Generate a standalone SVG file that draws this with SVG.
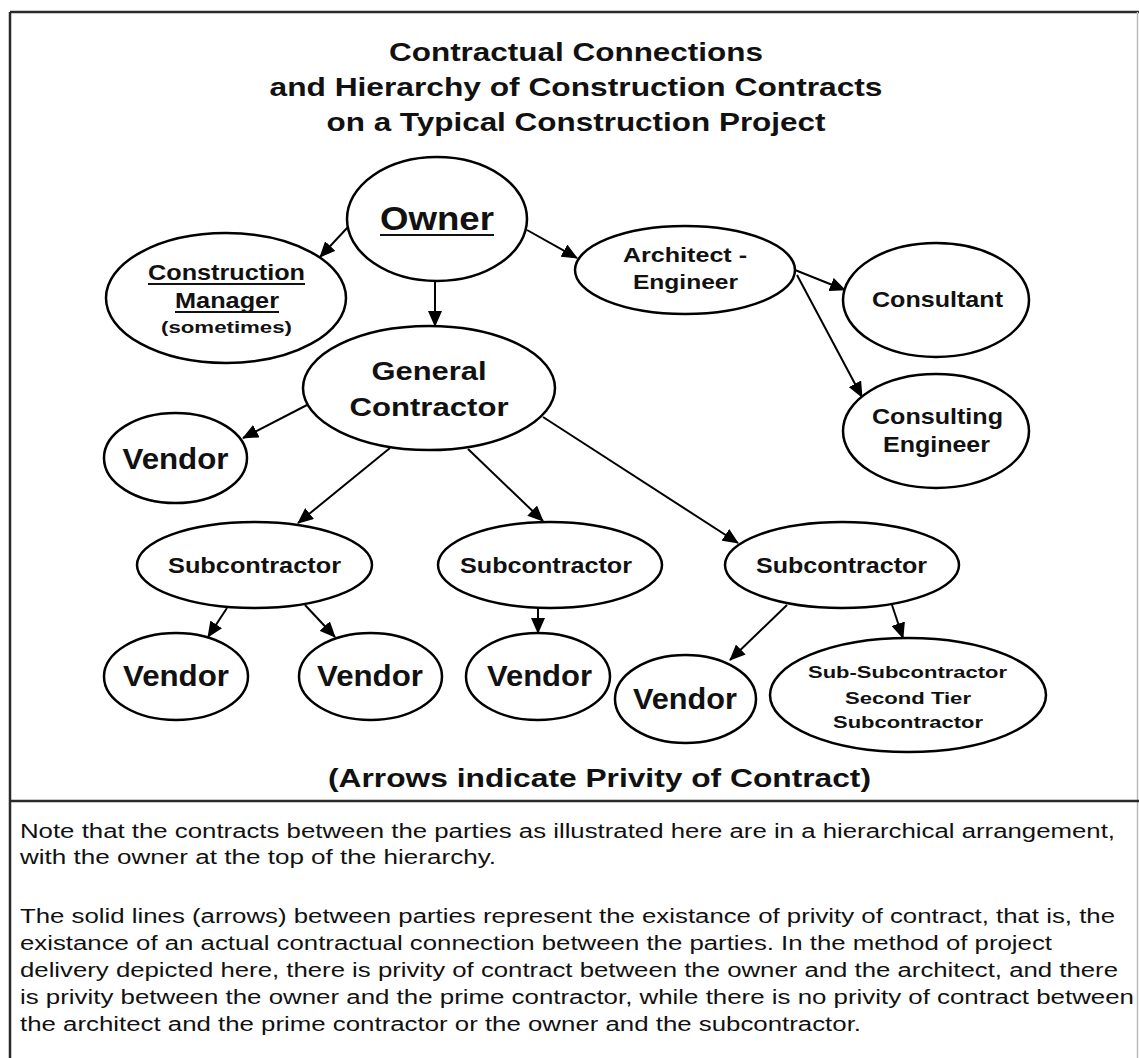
<svg xmlns="http://www.w3.org/2000/svg" width="1139" height="1058" viewBox="0 0 1139 1058">
<style>
  .frame { stroke:#2a2a2a; stroke-width:2.5; fill:none; }
  .node ellipse { fill:#fff; stroke:#000; stroke-width:2.5; }
  .lbl { font-family:"Liberation Sans", Arial, Helvetica, sans-serif; font-weight:bold; text-anchor:middle; fill:#111; }
  .ul { stroke:#111; stroke-width:2; }
  .conn line { stroke:#000; stroke-width:2; marker-end:url(#ah); }
  .title { font-family:"Liberation Sans", Arial, Helvetica, sans-serif; font-weight:bold; font-size:26px; text-anchor:middle; fill:#111; }
  .body { font-family:"Liberation Sans", Arial, Helvetica, sans-serif; font-size:20px; fill:#111; }
</style>
<defs>
  <marker id="ah" markerUnits="userSpaceOnUse" markerWidth="16" markerHeight="14" refX="15" refY="7" orient="auto">
    <path d="M0,0 L16,7 L0,14 z" fill="#000"/>
  </marker>
</defs>
<rect x="0" y="0" width="1139" height="1058" fill="#fff"/>
<g id="frame">
  <line class="frame" x1="10" y1="12" x2="1139" y2="12"/>
  <line class="frame" x1="10" y1="12" x2="10" y2="1058"/>
  <line x1="1137.5" y1="12" x2="1137.5" y2="1058" stroke="#bbb" stroke-width="1.5"/>
  <line class="frame" x1="10" y1="801" x2="1139" y2="801"/>
</g>
<g id="title">
  <text class="title" x="576" y="61" textLength="374" lengthAdjust="spacingAndGlyphs">Contractual Connections</text>
  <text class="title" x="576" y="96" textLength="613" lengthAdjust="spacingAndGlyphs">and Hierarchy of Construction Contracts</text>
  <text class="title" x="576" y="131" textLength="499" lengthAdjust="spacingAndGlyphs">on a Typical Construction Project</text>
</g>
<g id="connectors" class="conn">
  <line x1="348" y1="227" x2="320" y2="257"/>
  <line x1="435" y1="282" x2="435" y2="326"/>
  <line x1="527" y1="230" x2="577" y2="258"/>
  <line x1="795" y1="270" x2="845" y2="290"/>
  <line x1="797" y1="275" x2="862" y2="397"/>
  <line x1="307" y1="405" x2="243" y2="438"/>
  <line x1="390" y1="448" x2="298" y2="523"/>
  <line x1="468" y1="449" x2="543" y2="521"/>
  <line x1="543" y1="417" x2="738" y2="543"/>
  <line x1="227" y1="608" x2="208" y2="637"/>
  <line x1="305" y1="605" x2="335" y2="637"/>
  <line x1="538" y1="608" x2="538" y2="633"/>
  <line x1="787" y1="605" x2="730" y2="660"/>
  <line x1="892" y1="605" x2="903" y2="638"/>
</g>
<g id="owner" class="node">
  <ellipse cx="437" cy="219" rx="90" ry="62"/>
  <text class="lbl" x="437" y="230" font-size="34" textLength="114" lengthAdjust="spacingAndGlyphs">Owner</text>
  <line class="ul" x1="380" y1="235" x2="494" y2="235"/>
</g>
<g id="construction-manager" class="node">
  <ellipse cx="226" cy="298" rx="120" ry="65"/>
  <text class="lbl" x="226.5" y="280" font-size="22" textLength="157" lengthAdjust="spacingAndGlyphs">Construction</text>
  <line class="ul" x1="148" y1="284" x2="305" y2="284"/>
  <text class="lbl" x="227" y="308" font-size="22" textLength="104" lengthAdjust="spacingAndGlyphs">Manager</text>
  <line class="ul" x1="175" y1="312" x2="279" y2="312"/>
  <text class="lbl" x="226.5" y="333" font-size="17" textLength="131" lengthAdjust="spacingAndGlyphs">(sometimes)</text>
</g>
<g id="architect-engineer" class="node">
  <ellipse cx="685" cy="270" rx="110" ry="44"/>
  <text class="lbl" x="685" y="262" font-size="21" textLength="124" lengthAdjust="spacingAndGlyphs">Architect -</text>
  <text class="lbl" x="685.5" y="289" font-size="21" textLength="105" lengthAdjust="spacingAndGlyphs">Engineer</text>
</g>
<g id="consultant" class="node">
  <ellipse cx="936" cy="300" rx="93" ry="57"/>
  <text class="lbl" x="937.5" y="307" font-size="22" textLength="131" lengthAdjust="spacingAndGlyphs">Consultant</text>
</g>
<g id="consulting-engineer" class="node">
  <ellipse cx="936" cy="431" rx="93" ry="57"/>
  <text class="lbl" x="937.5" y="424" font-size="22" textLength="131" lengthAdjust="spacingAndGlyphs">Consulting</text>
  <text class="lbl" x="936.5" y="452" font-size="22" textLength="107" lengthAdjust="spacingAndGlyphs">Engineer</text>
</g>
<g id="general-contractor" class="node">
  <ellipse cx="429" cy="388" rx="126" ry="62"/>
  <text class="lbl" x="429" y="380" font-size="26" textLength="115" lengthAdjust="spacingAndGlyphs">General</text>
  <text class="lbl" x="429" y="416" font-size="26" textLength="159" lengthAdjust="spacingAndGlyphs">Contractor</text>
</g>
<g id="vendor-gc" class="node">
  <ellipse cx="175.5" cy="458" rx="71.5" ry="45"/>
  <text class="lbl" x="175.5" y="469" font-size="30" textLength="106" lengthAdjust="spacingAndGlyphs">Vendor</text>
</g>
<g id="subcontractor-1" class="node">
  <ellipse cx="254.5" cy="565" rx="117.5" ry="43"/>
  <text class="lbl" x="254.5" y="573" font-size="22" textLength="173" lengthAdjust="spacingAndGlyphs">Subcontractor</text>
</g>
<g id="subcontractor-2" class="node">
  <ellipse cx="550" cy="565" rx="112" ry="43"/>
  <text class="lbl" x="546" y="573" font-size="22" textLength="172" lengthAdjust="spacingAndGlyphs">Subcontractor</text>
</g>
<g id="subcontractor-3" class="node">
  <ellipse cx="842" cy="565" rx="117" ry="43"/>
  <text class="lbl" x="841.5" y="573" font-size="22" textLength="171" lengthAdjust="spacingAndGlyphs">Subcontractor</text>
</g>
<g id="vendor-1a" class="node">
  <ellipse cx="176" cy="676.5" rx="72" ry="43.5"/>
  <text class="lbl" x="176" y="686" font-size="30" textLength="106" lengthAdjust="spacingAndGlyphs">Vendor</text>
</g>
<g id="vendor-1b" class="node">
  <ellipse cx="370.5" cy="676.5" rx="71.5" ry="43.5"/>
  <text class="lbl" x="370" y="686" font-size="30" textLength="106" lengthAdjust="spacingAndGlyphs">Vendor</text>
</g>
<g id="vendor-2" class="node">
  <ellipse cx="538" cy="676.5" rx="72" ry="43.5"/>
  <text class="lbl" x="539.5" y="686" font-size="30" textLength="105" lengthAdjust="spacingAndGlyphs">Vendor</text>
</g>
<g id="vendor-3" class="node">
  <ellipse cx="685.5" cy="699" rx="70.5" ry="44"/>
  <text class="lbl" x="685" y="709" font-size="30" textLength="104" lengthAdjust="spacingAndGlyphs">Vendor</text>
</g>
<g id="sub-subcontractor" class="node">
  <ellipse cx="908" cy="695" rx="138" ry="57"/>
  <text class="lbl" x="907.5" y="678" font-size="17" textLength="199" lengthAdjust="spacingAndGlyphs">Sub-Subcontractor</text>
  <text class="lbl" x="908" y="704" font-size="17" textLength="126" lengthAdjust="spacingAndGlyphs">Second Tier</text>
  <text class="lbl" x="908" y="728" font-size="17" textLength="150" lengthAdjust="spacingAndGlyphs">Subcontractor</text>
</g>
<g id="caption">
  <text class="title" x="599.5" y="787" textLength="543" lengthAdjust="spacingAndGlyphs">(Arrows indicate Privity of Contract)</text>
</g>
<g id="notes" class="body">
  <text x="20" y="838" textLength="1095" lengthAdjust="spacingAndGlyphs">Note that the contracts between the parties as illustrated here are in a hierarchical arrangement,</text>
  <text x="20" y="864" textLength="476" lengthAdjust="spacingAndGlyphs">with the owner at the top of the hierarchy.</text>
  <text x="20" y="923" textLength="1095" lengthAdjust="spacingAndGlyphs">The solid lines (arrows) between parties represent the existance of privity of contract, that is, the</text>
  <text x="20" y="950" textLength="1032" lengthAdjust="spacingAndGlyphs">existance of an actual contractual connection between the parties. In the method of project</text>
  <text x="20" y="977" textLength="1098" lengthAdjust="spacingAndGlyphs">delivery depicted here, there is privity of contract between the owner and the architect, and there</text>
  <text x="20" y="1004" textLength="1114" lengthAdjust="spacingAndGlyphs">is privity between the owner and the prime contractor, while there is no privity of contract between</text>
  <text x="20" y="1031" textLength="841" lengthAdjust="spacingAndGlyphs">the architect and the prime contractor or the owner and the subcontractor.</text>
</g>
</svg>
